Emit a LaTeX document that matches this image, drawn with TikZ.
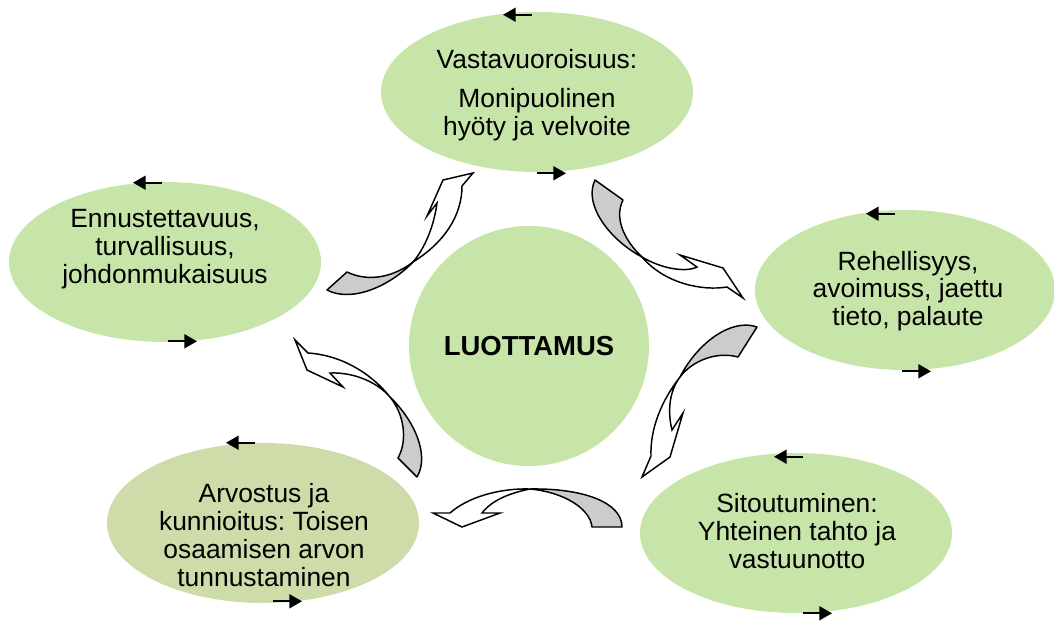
\documentclass[tikz,border=0pt]{standalone}
\usepackage{fontspec}
\setmainfont{Liberation Sans}
\usetikzlibrary{shapes.geometric,arrows.meta}
\frenchspacing
\begin{document}
\begin{tikzpicture}[x=0.75pt,y=-0.75pt,
  bubble/.style={ellipse,fill=leafgreen,minimum width=234pt,minimum height=120pt,inner sep=0pt},
  words/.style={align=center,inner sep=0pt,font=\fontsize{19.8}{20.8}\selectfont},
  back/.style={fill=backgrey,draw=black,line width=1.1pt,line join=round},
  front/.style={fill=white,draw=black,line width=1.1pt},
  tick/.style={line width=1.4pt,-{Triangle[length=9.5pt,width=10.5pt]}}]
 \definecolor{leafgreen}{HTML}{C7E5A9}
 \definecolor{olivegreen}{HTML}{CEDCAA}
 \definecolor{backgrey}{HTML}{CCCCCC}
 \useasboundingbox (0,0) rectangle (1054,622);
 \node [bubble] (vast) at (537,92) {};
 \node [bubble] (ennu) at (165,262) {};
 \node [bubble,minimum width=225pt] (rehe) at (905,290) {};
 \node [bubble] (sito) at (796,533) {};
 \node [bubble,fill=olivegreen] (arvo) at (263,523) {};
 \node [circle,fill=leafgreen,minimum size=180pt,inner sep=0pt,font=\bfseries\fontsize{20.6}{24}\selectfont] (luot) at (529,346) {LUOTTAMUS};
 \node [words] (vastext) at (537,95) {Vastavuoroisuus:\\[9pt]Monipuolinen\\hyöty ja velvoite};
 \node [words] (ennutext) at (165,249) {Ennustettavuus,\\turvallisuus,\\johdonmukaisuus};
 \node [words] (rehetext) at (908,291) {Rehellisyys,\\avoimuss, jaettu\\tieto, palaute};
 \node [words] (sitotext) at (797,531) {Sitoutuminen:\\Yhteinen tahto ja\\vastuunotto};
 \node [words] (arvotext) at (264,535) {Arvostus ja\\kunnioitus: Toisen\\osaamisen arvon\\tunnustaminen};
 \foreach \n/\dx/\dy in {vast/-5/3, ennu/-3/1, rehe/-10/4, sito/7/4, arvo/-8/0}
  \draw [tick] ([shift={(\dx,\dy)}]\n.north) -- ++(-29,0);
 \foreach \n/\dx/\dy in {vast/0/1, ennu/3/-1, rehe/-3/1, sito/7/0, arvo/10/-2}
  \draw [tick] ([shift={(\dx,\dy)}]\n.south) -- ++(29,0);
 \draw [back] (327,290) -- (347,272) .. controls (370,283) and (395,276) .. (413,262) .. controls (390,286) and (352,303) .. cycle;
 \draw [front] (413,262) .. controls (425,248) and (434,226) .. (437,203) -- (427,216) -- (443,180) -- (473,173) -- (462,186) .. controls (462,215) and (445,242) .. cycle;
 \draw [back] (595,180) -- (623,200) .. controls (614,218) and (624,240) .. (642,257) .. controls (610,240) and (583,205) .. cycle;
 \draw [front] (642,257) .. controls (660,268) and (685,273) .. (697,267) -- (680,255) -- (723,268) -- (743,298) -- (727,287) .. controls (703,291) and (665,284) .. cycle;
 \draw [back] (757,327) -- (738,357) .. controls (716,351) and (692,361) .. (680,377) .. controls (698,342) and (732,318) .. cycle;
 \draw [front] (680,377) .. controls (662,400) and (650,428) .. (651,456) -- (642,477) -- (670,457) -- (683,413) -- (672,430) .. controls (667,410) and (670,390) .. cycle;
 \draw [back] (530,489) .. controls (582,488) and (622,502) .. (622,527) -- (592,527) .. controls (590,508) and (563,492) .. cycle;
 \draw [front] (530,489) .. controls (500,488) and (468,497) .. (450,513) -- (433,513) -- (462,527) -- (500,513) -- (482,513) .. controls (492,500) and (510,493) .. cycle;
 \draw [back] (390,397) .. controls (414,420) and (430,455) .. (417,477) -- (398,458) .. controls (408,440) and (404,414) .. cycle;
 \draw [front] (390,397) .. controls (370,372) and (340,355) .. (308,353) -- (295,340) -- (307,370) -- (343,387) -- (330,373) .. controls (355,372) and (378,383) .. cycle;
\end{tikzpicture}
\end{document}
